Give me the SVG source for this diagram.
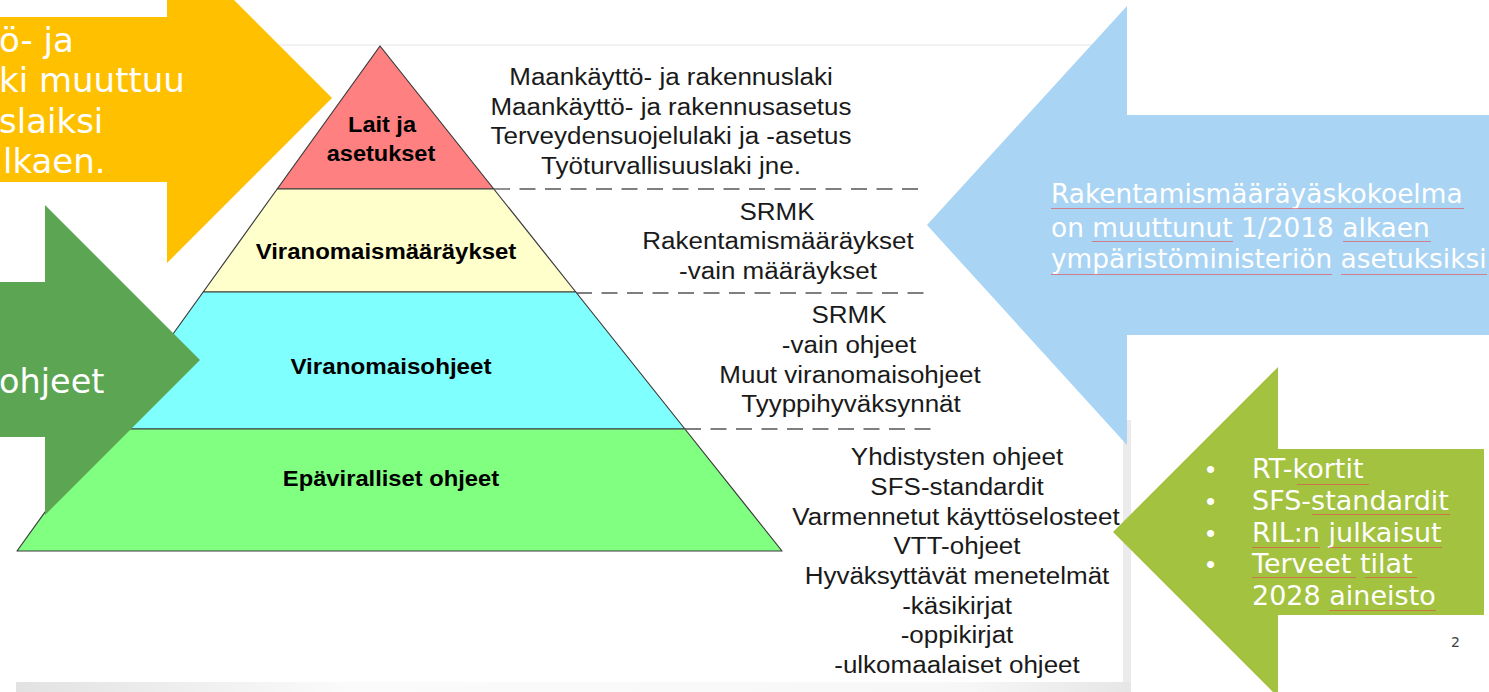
<svg xmlns="http://www.w3.org/2000/svg" width="1489" height="692" viewBox="0 0 1489 692">
<style>
.lay{stroke:#3a3a3a;stroke-width:1.2;stroke-linejoin:round}
.lbl{font-family:"Liberation Sans",Arial,sans-serif;font-weight:bold;font-size:22px;fill:#000;text-anchor:middle}
.rt{font-family:"Liberation Sans",Arial,sans-serif;font-size:23px;fill:#1a1a1a;text-anchor:middle}
.wt{font-family:"DejaVu Sans",Verdana,sans-serif;fill:#fff}
.dash{stroke:#555;stroke-width:1.3;stroke-dasharray:16 9.5;fill:none}
.sq{fill:url(#squig)}
</style>
<defs>
<pattern id="squig" width="3" height="3" patternUnits="userSpaceOnUse">
<path d="M0,2 L0.75,1 L1.5,2 L2.25,1 L3,2" stroke="#e4484c" stroke-width="0.6" fill="none"/>
</pattern>
<linearGradient id="shadowB" x1="0" y1="0" x2="1" y2="0">
<stop offset="0" stop-color="#e2e2e2"/>
<stop offset="0.3" stop-color="#fbfbfb"/>
<stop offset="0.85" stop-color="#f7f7f7"/>
<stop offset="1" stop-color="#e6e6e6"/>
</linearGradient>
</defs>
<rect width="1489" height="692" fill="#fff"/>

<g id="frame">
<line x1="277" y1="45" x2="1110" y2="45" stroke="#f2f2f2" stroke-width="2"/>
<rect x="1123" y="420" width="8" height="272" fill="#ebebeb"/>
<rect x="16" y="682" width="1115" height="10" fill="url(#shadowB)"/>
</g>

<g id="pyramid">
<g id="layer-lait">
<polygon class="lay" points="380,46 493.8,189 277.2,189" fill="#ff8080"/>
<text class="lbl" transform="translate(382,132) scale(1.07,1)">Lait ja</text>
<text class="lbl" transform="translate(381,161) scale(1.07,1)">asetukset</text>
</g>
<g id="layer-maaraykset">
<polygon class="lay" points="277.2,189 493.8,189 575.8,292 203.2,292" fill="#ffffcc"/>
<text class="lbl" transform="translate(386,259) scale(1.09,1)">Viranomaismääräykset</text>
</g>
<g id="layer-ohjeet">
<polygon class="lay" points="203.2,292 575.8,292 684.9,429 104.7,429" fill="#80ffff"/>
<text class="lbl" transform="translate(391,374) scale(1.1,1)">Viranomaisohjeet</text>
</g>
<g id="layer-epaviralliset">
<polygon class="lay" points="104.7,429 684.9,429 782,551 17,551" fill="#80ff80"/>
<text class="lbl" transform="translate(391,486) scale(1.08,1)">Epäviralliset ohjeet</text>
</g>
</g>

<g id="dividers">
<line class="dash" x1="494" y1="189" x2="925" y2="189"/>
<line class="dash" x1="576" y1="293" x2="933" y2="293"/>
<line class="dash" x1="685" y1="429" x2="940" y2="429"/>
</g>

<g id="text-lait">
<text class="rt" transform="translate(671,85) scale(1.13,1)">Maankäyttö- ja rakennuslaki</text>
<text class="rt" transform="translate(671,115) scale(1.13,1)">Maankäyttö- ja rakennusasetus</text>
<text class="rt" transform="translate(671,144) scale(1.13,1)">Terveydensuojelulaki ja -asetus</text>
<text class="rt" transform="translate(671,174) scale(1.13,1)">Työturvallisuuslaki jne.</text>
</g>
<g id="text-maaraykset">
<text class="rt" transform="translate(777,220) scale(1.13,1)">SRMK</text>
<text class="rt" transform="translate(778,249) scale(1.13,1)">Rakentamismääräykset</text>
<text class="rt" transform="translate(778,279) scale(1.13,1)">-vain määräykset</text>
</g>
<g id="text-ohjeet">
<text class="rt" transform="translate(849,323) scale(1.13,1)">SRMK</text>
<text class="rt" transform="translate(849,353) scale(1.13,1)">-vain ohjeet</text>
<text class="rt" transform="translate(850,383) scale(1.13,1)">Muut viranomaisohjeet</text>
<text class="rt" transform="translate(851,412) scale(1.13,1)">Tyyppihyväksynnät</text>
</g>
<g id="text-epaviralliset">
<text class="rt" transform="translate(957,465) scale(1.13,1)">Yhdistysten ohjeet</text>
<text class="rt" transform="translate(957,495) scale(1.13,1)">SFS-standardit</text>
<text class="rt" transform="translate(956,525) scale(1.13,1)">Varmennetut käyttöselosteet</text>
<text class="rt" transform="translate(957,554) scale(1.13,1)">VTT-ohjeet</text>
<text class="rt" transform="translate(957,584) scale(1.13,1)">Hyväksyttävät menetelmät</text>
<text class="rt" transform="translate(957,614) scale(1.13,1)">-käsikirjat</text>
<text class="rt" transform="translate(957,643) scale(1.13,1)">-oppikirjat</text>
<text class="rt" transform="translate(957,673) scale(1.13,1)">-ulkomaalaiset ohjeet</text>
</g>

<g id="arrow-orange">
<polygon points="-2,17 167,17 167,-67 332,98 167,263 167,182 -2,182" fill="#ffc000"/>
<text class="wt" font-size="34" x="-1" y="52">ö- ja</text>
<text class="wt" font-size="34" x="-1" y="92">ki muuttuu</text>
<text class="wt" font-size="34" x="-1" y="133">slaiksi</text>
<text class="wt" font-size="34" x="3" y="173">lkaen.</text>
</g>

<g id="arrow-green">
<polygon points="-2,282 45,282 45,205 200,360 45,515 45,437 -2,437" fill="#5ca553"/>
<text class="wt" font-size="33.5" x="-1" y="393">ohjeet</text>
</g>

<g id="arrow-blue">
<polygon points="1491,115 1127,115 1127,6 927,225 1127,445 1127,335 1491,335" fill="#a9d4f3"/>
<text class="wt" font-size="26.4" x="1051" y="203">Rakentamismääräyäskokoelma</text>
<text class="wt" font-size="26.4" x="1051" y="237">on muuttunut 1/2018 alkaen</text>
<text class="wt" font-size="26.4" x="1051" y="268">ympäristöministeriön asetuksiksi</text>
<rect class="sq" x="1051" y="207" width="413" height="3"/>
<rect class="sq" x="1092" y="241" width="141" height="3"/>
<rect class="sq" x="1343" y="241" width="88" height="3"/>
<rect class="sq" x="1051" y="272" width="281" height="3"/>
<rect class="sq" x="1341" y="272" width="146" height="3"/>
</g>

<g id="arrow-lime">
<polygon points="1484,449 1278,449 1278,367 1113,532 1278,697 1278,615 1484,615" fill="#a3c23f"/>
<g font-family="'Liberation Sans',Arial,sans-serif" font-size="26" fill="#fff">
<text x="1206" y="478">•</text>
<text x="1206" y="510">•</text>
<text x="1206" y="542">•</text>
<text x="1206" y="573">•</text>
</g>
<text class="wt" font-size="27" x="1252" y="478">RT-kortit</text>
<text class="wt" font-size="27" x="1252" y="510">SFS-standardit</text>
<text class="wt" font-size="27" x="1252" y="542">RIL:n julkaisut</text>
<text class="wt" font-size="27" x="1252" y="573">Terveet tilat</text>
<text class="wt" font-size="27" x="1252" y="605">2028 aineisto</text>
<rect class="sq" x="1297" y="482" width="72" height="3"/>
<rect class="sq" x="1312" y="514" width="138" height="3"/>
<rect class="sq" x="1252" y="546" width="68" height="3"/>
<rect class="sq" x="1329" y="546" width="113" height="3"/>
<rect class="sq" x="1252" y="577" width="104" height="3"/>
<rect class="sq" x="1365" y="577" width="52" height="3"/>
<rect class="sq" x="1329" y="609" width="107" height="3"/>
</g>

<text id="page-number" x="1451" y="647" font-family="'DejaVu Sans',Verdana,sans-serif" font-size="14" fill="#404040">2</text>
</svg>
